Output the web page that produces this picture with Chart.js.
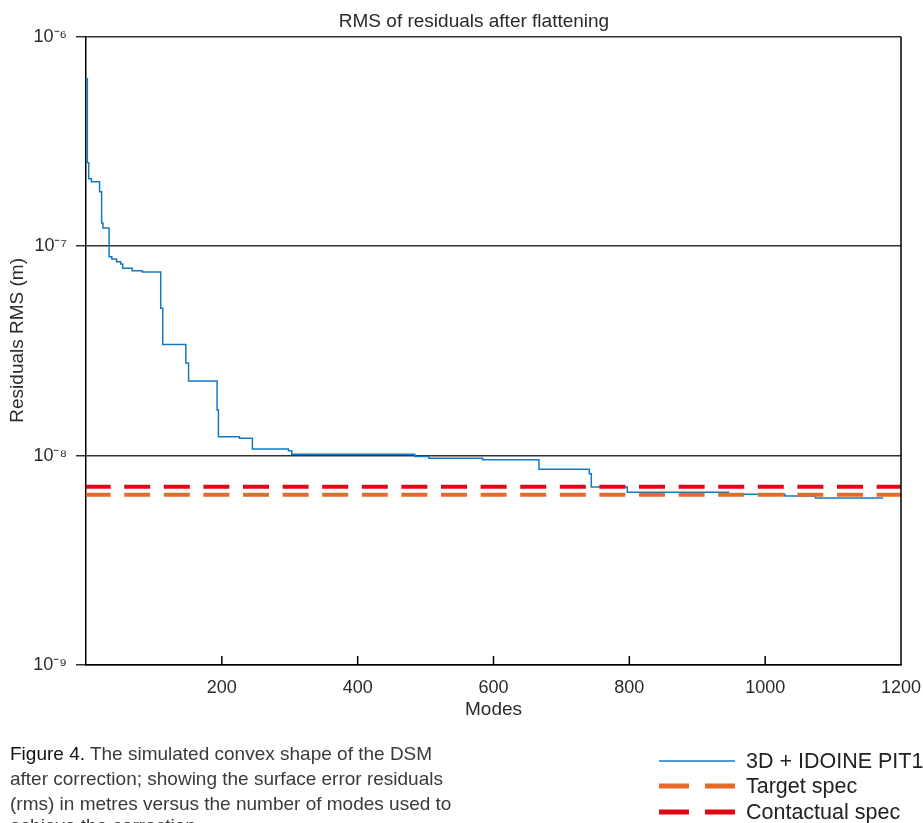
<!DOCTYPE html>
<html>
<head>
<meta charset="utf-8">
<script src="https://cdn.jsdelivr.net/npm/chart.js@4/dist/chart.umd.min.js"></script>
<style>
html,body{margin:0;padding:0;background:#fff;width:923px;height:823px;overflow:hidden;}
#c{position:absolute;left:0;top:0;}
.cap{position:absolute;left:10px;width:480px;font:19px "Liberation Sans",Arial,sans-serif;line-height:25px;color:#3a3a3a;white-space:nowrap;}
.cap b{font-weight:normal;color:#111;}
.lg{position:absolute;left:659px;height:26px;display:flex;align-items:center;font:21.5px "Liberation Sans",Arial,sans-serif;color:#222;white-space:nowrap;}
.lg svg{width:76px;height:10px;margin-right:11px;flex:none;}
</style>
</head>
<body>
<canvas id="c" width="923" height="823"></canvas>
<div class="cap" style="top:741px"><b>Figure 4.</b> The simulated convex shape of the DSM<br>after correction; showing the surface error residuals<br>(rms) in metres versus the number of modes used to</div>
<div class="cap" style="top:813px">achieve the correction.</div>
<div id="legend"></div>
<script>
// ---- data ----
const chartTitle = 'RMS of residuals after flattening';
const xTitle = 'Modes';
const yTitle = 'Residuals RMS (m)';
const seriesNames = ['3D + IDOINE PIT16', 'Target spec', 'Contactual spec'];
const seriesColors = ['#1479c5', '#e8692b', '#e30613'];
// RMS step curve: value holds from each mode until the next listed mode
const modes = [1, 2, 4, 8, 20, 23, 25, 34, 38, 45, 51, 54, 68, 83, 110, 113, 147, 151, 193, 195, 226, 245, 298, 303, 484, 505, 584, 667, 741, 744, 797, 946, 1029, 1074, 1174];
const rms = [6.3e-7, 2.5e-7, 2.1e-7, 2.03e-7, 1.82e-7, 1.29e-7, 1.22e-7, 8.9e-8, 8.69e-8, 8.43e-8, 8.22e-8, 7.85e-8, 7.64e-8, 7.53e-8, 5.06e-8, 3.39e-8, 2.77e-8, 2.27e-8, 1.65e-8, 1.23e-8, 1.21e-8, 1.076e-8, 1.056e-8, 1.016e-8, 9.89e-9, 9.72e-9, 9.55e-9, 8.61e-9, 8.18e-9, 7.08e-9, 6.68e-9, 6.54e-9, 6.42e-9, 6.28e-9, 6.28e-9];
const specRange = [0, 1200];
const targetSpec = 6.5e-9;
const contractualSpec = 7.1e-9;
const xTicks = [200, 400, 600, 800, 1000, 1200];
const yTicks = [1e-9, 1e-8, 1e-7, 1e-6];
const yTickLabels = ['10\u207B\u2079', '10\u207B\u2078', '10\u207B\u2077', '10\u207B\u2076'];

const FONT = '"Liberation Sans", Arial, sans-serif';
const TXT = '#2a2a2a';

const mainData = modes.map((m, i) => ({x: m, y: rms[i]}));
const targetData = specRange.map(x => ({x, y: targetSpec}));
const contractData = specRange.map(x => ({x, y: contractualSpec}));

const titleShift = {
  id: 'titleShift',
  afterLayout(chart) { if (chart.titleBlock) { chart.titleBlock.left = 47; } }
};

const framePlugin = {
  id: 'frame',
  afterDatasetsDraw(chart) {
    const {ctx, chartArea: a, scales: {x}} = chart;
    ctx.save();
    ctx.strokeStyle = '#000';
    ctx.lineWidth = 1.5;
    ctx.beginPath();
    ctx.moveTo(a.right, a.top);
    ctx.lineTo(a.right, a.bottom);
    xTicks.forEach(v => {
      const px = x.getPixelForValue(v);
      ctx.moveTo(px, a.bottom);
      ctx.lineTo(px, a.bottom - 9);
    });
    ctx.stroke();
    ctx.restore();
  }
};

new Chart(document.getElementById('c'), {
  type: 'line',
  data: {
    datasets: [
      {label: seriesNames[0], data: mainData, borderColor: seriesColors[0], borderWidth: 1.5, stepped: 'before', pointRadius: 0, fill: false, order: 3},
      {label: seriesNames[1], data: targetData, borderColor: seriesColors[1], borderWidth: 4, borderDash: [26, 13.6], borderDashOffset: 1.4, pointRadius: 0, fill: false, order: 2},
      {label: seriesNames[2], data: contractData, borderColor: seriesColors[2], borderWidth: 4, borderDash: [26, 13.6], borderDashOffset: 1.4, pointRadius: 0, fill: false, order: 1}
    ]
  },
  options: {
    responsive: false,
    animation: false,
    devicePixelRatio: 1,
    layout: {padding: {left: 0, right: 22, top: 0, bottom: 98}},
    plugins: {
      legend: {display: false},
      tooltip: {enabled: false},
      title: {display: true, text: chartTitle, color: TXT, font: {family: FONT, size: 19, weight: 'normal'}, padding: {top: 10, bottom: 4}}
    },
    scales: {
      x: {
        type: 'linear', min: 0, max: 1200,
        afterBuildTicks: s => { s.ticks = xTicks.map(v => ({value: v})); },
        afterFit: s => { s.height = 60; s.paddingLeft = 0; s.paddingRight = 0; },
        grid: {display: false, drawTicks: false},
        border: {display: true, color: '#000', width: 1.5},
        ticks: {color: TXT, font: {family: FONT, size: 18}, padding: 12, maxRotation: 0, autoSkip: false, callback: v => String(v)},
        title: {display: true, text: xTitle, color: TXT, font: {family: FONT, size: 19}, padding: {top: 0, bottom: 4}}
      },
      y: {
        type: 'logarithmic', min: 1e-9, max: 1e-6,
        afterBuildTicks: s => { s.ticks = yTicks.map(v => ({value: v})); },
        afterFit: s => { s.width = 86; },
        grid: {color: '#333', lineWidth: 1.5, tickLength: 10, drawTicks: true},
        border: {display: true, color: '#000', width: 1.5},
        ticks: {color: TXT, font: {family: FONT, size: 18}, padding: 9, autoSkip: false,
          callback: v => { const i = yTicks.findIndex(t => Math.abs(Math.log10(t) - Math.log10(v)) < 1e-6); return i >= 0 ? yTickLabels[i] : ''; }},
        title: {display: true, text: '    ' + yTitle, color: TXT, font: {family: FONT, size: 19}, padding: {top: 6.6, bottom: 0}}
      }
    }
  },
  plugins: [titleShift, framePlugin]
});

// legend (HTML)
const legendRows = [
  {name: seriesNames[0], color: seriesColors[0], dashed: false, cy: 761},
  {name: seriesNames[1], color: seriesColors[1], dashed: true, cy: 786},
  {name: seriesNames[2], color: seriesColors[2], dashed: true, cy: 812}
];
const lg = document.getElementById('legend');
legendRows.forEach(r => {
  const d = document.createElement('div');
  d.className = 'lg';
  d.style.top = (r.cy - 13) + 'px';
  const line = r.dashed
    ? `<line x1="0" y1="5" x2="76" y2="5" stroke="${r.color}" stroke-width="5" stroke-dasharray="30 16"/>`
    : `<line x1="0" y1="5" x2="76" y2="5" stroke="${r.color}" stroke-width="1.5"/>`;
  d.innerHTML = `<svg viewBox="0 0 76 10">${line}</svg><span></span>`;
  d.querySelector('span').textContent = r.name;
  lg.appendChild(d);
});
</script>
</body>
</html>
